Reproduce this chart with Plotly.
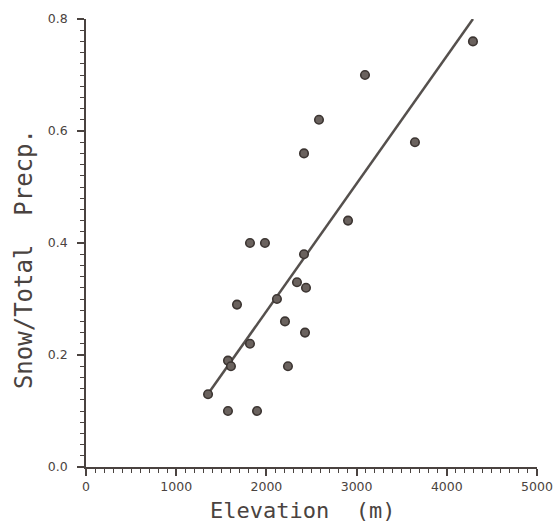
import plotly.graph_objects as go

# Data
elevation = [1353, 1574, 1607, 1818, 2239, 1574, 1896, 2428, 1818, 1984, 1674,
             2117, 2206, 2339, 2439, 2417, 3093, 2583, 2417, 2905, 4290, 3647]
snow_ratio = [0.13, 0.19, 0.18, 0.22, 0.18, 0.10, 0.10, 0.24, 0.40, 0.40, 0.29,
              0.30, 0.26, 0.33, 0.32, 0.38, 0.70, 0.62, 0.56, 0.44, 0.76, 0.58]
fit_x = [1350, 4290]
fit_y = [0.13, 0.80]
x_ticks = [0, 1000, 2000, 3000, 4000, 5000]
y_ticks = [0.0, 0.2, 0.4, 0.6, 0.8]
x_title = "Elevation  (m)"
y_title = "Snow/Total  Precp."

ink = "#4a4340"
font_family = "DejaVu Sans, Liberation Sans, sans-serif"
title_family = "DejaVu Sans Mono, Liberation Mono, monospace"

fig = go.Figure()
fig.add_trace(go.Scatter(
    x=fit_x, y=fit_y, mode="lines",
    line=dict(color="#55504d", width=2.5),
    showlegend=False, hoverinfo="skip",
))
fig.add_trace(go.Scatter(
    x=elevation, y=snow_ratio, mode="markers",
    marker=dict(symbol="circle", size=8.5, color="#6a625e",
                line=dict(color="#3c3532", width=1.6)),
    showlegend=False,
))

axis_common = dict(
    showgrid=False, zeroline=False, automargin=False,
    showline=True, linecolor=ink, linewidth=1.8,
    ticks="outside", ticklen=7, tickwidth=1.5, tickcolor=ink,
    tickfont=dict(size=12.5, color=ink),
)

fig.update_layout(
    width=558, height=532,
    margin=dict(l=86, r=21, t=19, b=65, autoexpand=False),
    paper_bgcolor="white", plot_bgcolor="white",
    font=dict(family=font_family, color=ink),
    xaxis=dict(
        range=[0, 5000], tickvals=x_ticks, ticktext=[str(v) for v in x_ticks],
        minor=dict(dtick=100, ticks="outside", ticklen=4, tickwidth=1.2, tickcolor=ink, showgrid=False),
        **axis_common,
    ),
    yaxis=dict(
        range=[0, 0.8], tickvals=y_ticks, tickformat=".1f", ticklabelstandoff=7,
        minor=dict(dtick=0.02, ticks="outside", ticklen=4, tickwidth=1.2, tickcolor=ink, showgrid=False),
        **axis_common,
    ),
    annotations=[
        dict(text=x_title, xref="paper", yref="paper", x=0.48, y=-0.096,
             xanchor="center", yanchor="middle", showarrow=False,
             font=dict(family=title_family, size=22, color=ink)),
        dict(text=y_title, xref="paper", yref="paper", x=-0.1375, y=0.464,
             xanchor="center", yanchor="middle", showarrow=False, textangle=-90,
             font=dict(family=title_family, size=24, color=ink)),
    ],
)

page_fix = ("document.body.style.margin='0';"
            "document.documentElement.style.overflow='hidden';"
            "document.body.style.overflow='hidden';")
fig.write_html("out.html", post_script=page_fix, config={"displayModeBar": False})
